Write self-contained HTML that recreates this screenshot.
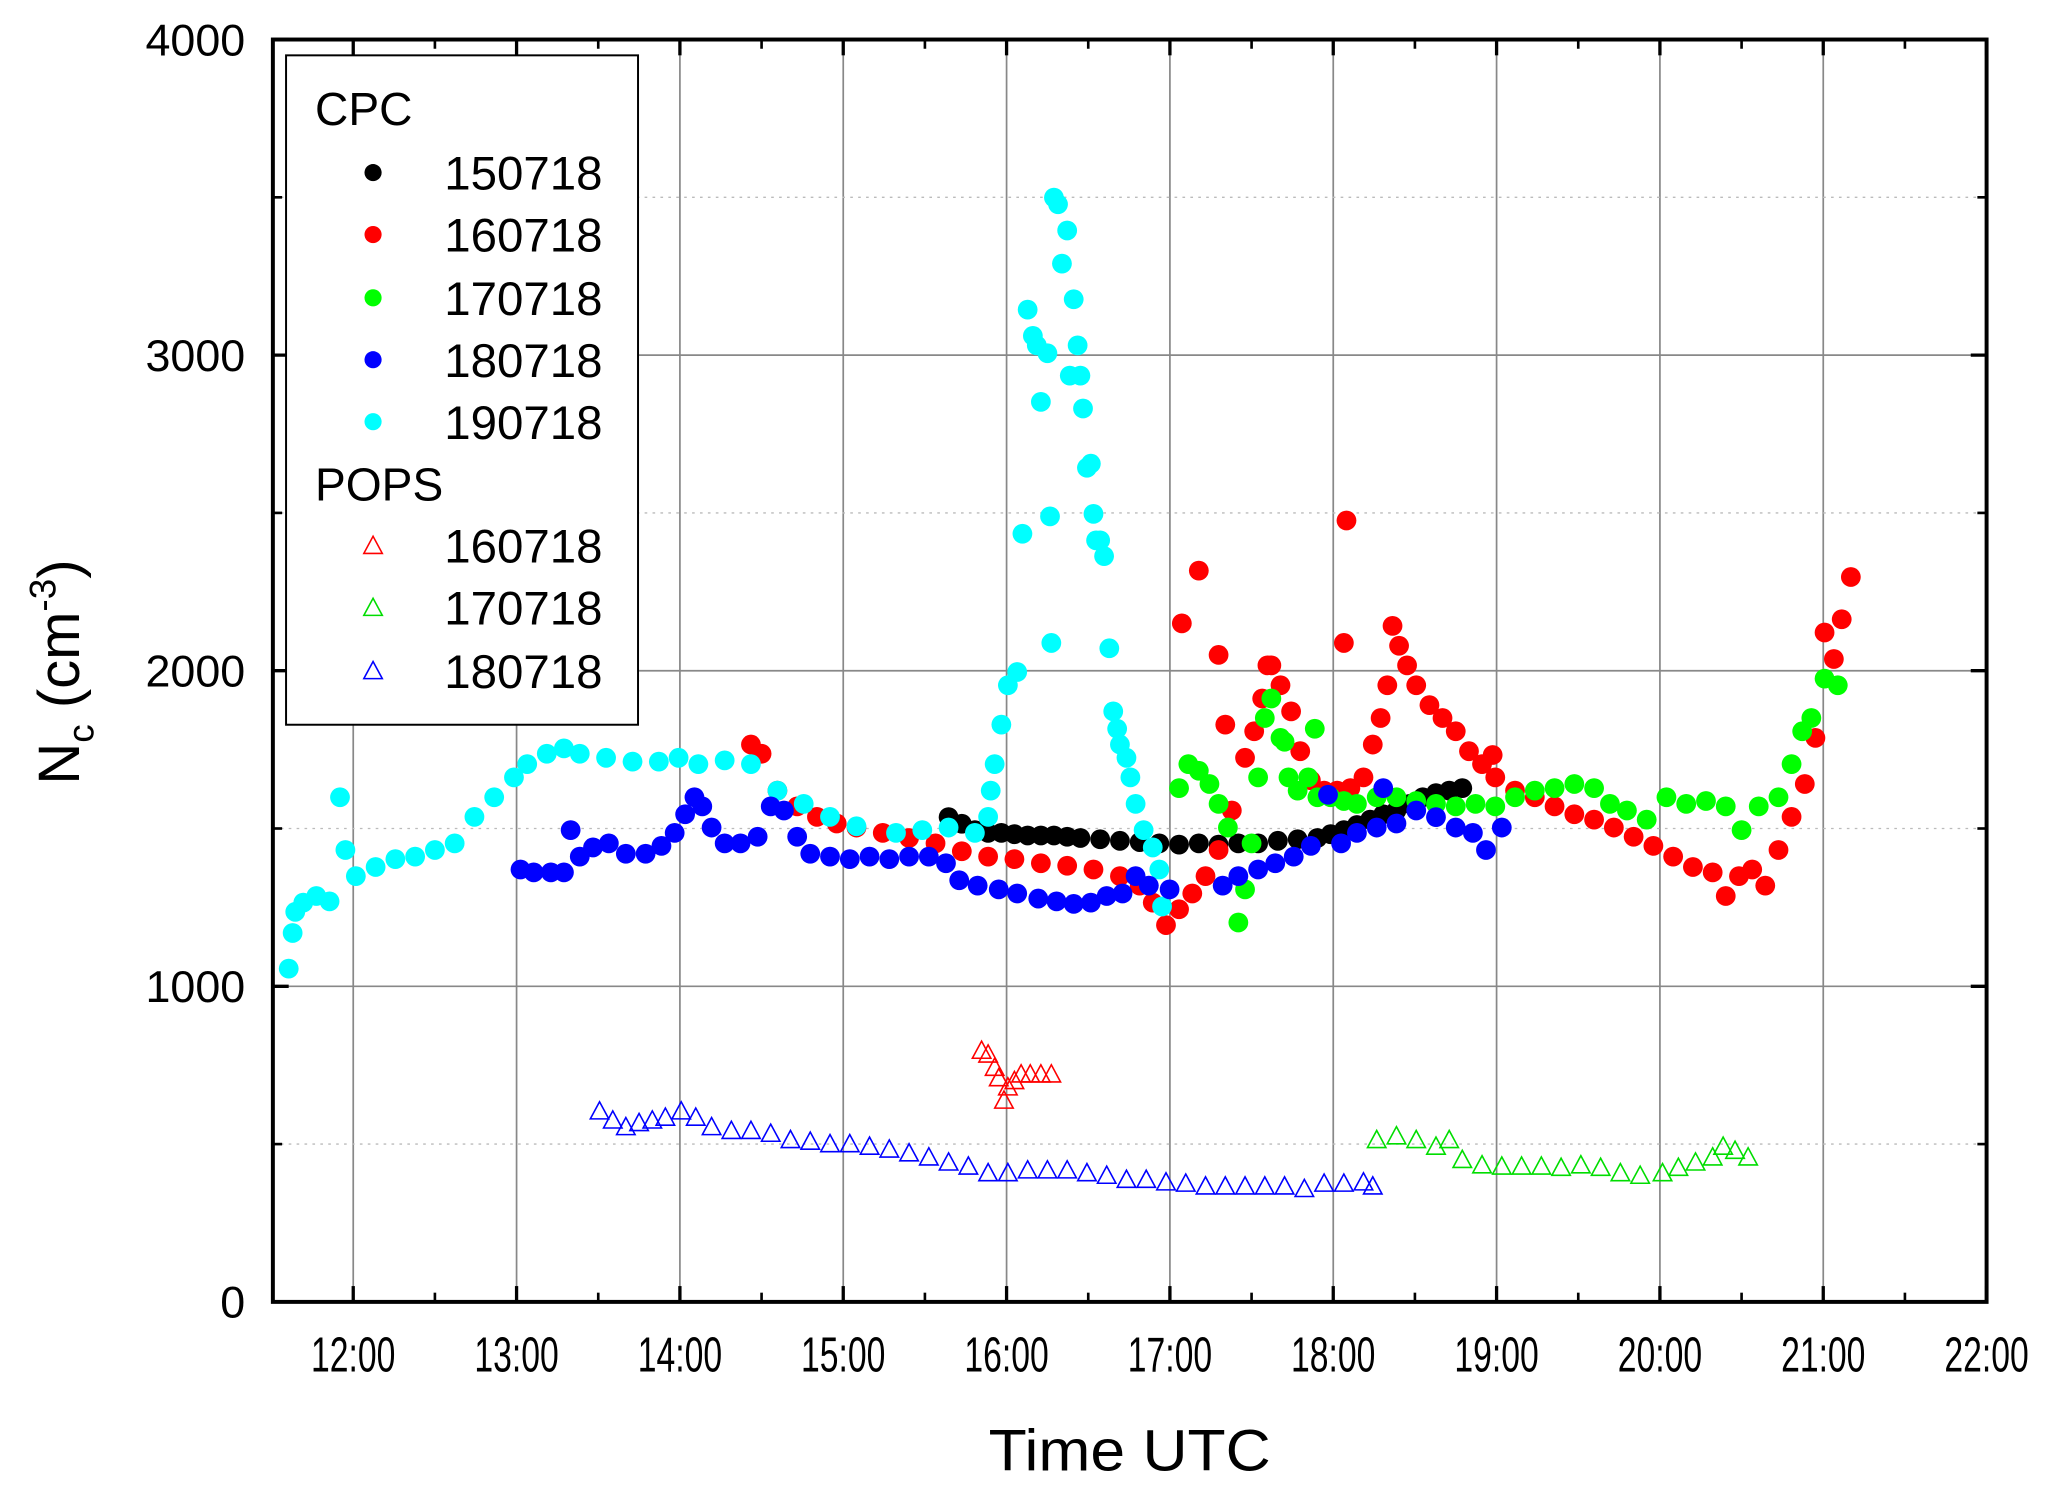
<!DOCTYPE html>
<html><head><meta charset="utf-8">
<style>
html,body{margin:0;padding:0;background:#fff;}
svg{display:block;}
text{font-family:"Liberation Sans",Arial,sans-serif;fill:#000;}
</style></head>
<body>
<svg id="chart" width="2067" height="1489" viewBox="0 0 1568 1130" preserveAspectRatio="none" xmlns="http://www.w3.org/2000/svg">
<g id="grid"></g>
<g id="marks"></g>
<g id="axes"></g>
<text x="857" y="1116" font-size="44" text-anchor="middle" textLength="214" lengthAdjust="spacingAndGlyphs">Time UTC</text>
<text transform="translate(60,510) rotate(-90)" font-size="44" text-anchor="middle">N<tspan font-size="28" dy="11">c</tspan><tspan dy="-11">  (cm</tspan><tspan font-size="28" dy="-18">-3</tspan><tspan dy="18">)</tspan></text>
<g>
<rect x="217" y="42" width="267" height="508" fill="#fff" stroke="#000" stroke-width="1.5"/>
<text x="239" y="95" font-size="35">CPC</text>
<text x="239" y="380" font-size="35">POPS</text>
<g id="legend-entries"></g>
</g>
</svg>
<script>
// ---- data (hours UTC, concentration cm^-3) ----
const cpc150718_t=[15.645,15.726,15.806,15.887,15.968,16.048,16.129,16.210,16.290,16.371,16.452,16.573,16.694,16.815,16.935,17.056,17.177,17.298,17.419,17.540,17.661,17.782,17.903,17.984,18.065,18.145,18.226,18.306,18.387,18.468,18.548,18.629,18.710,18.790];
const cpc150718_v=[1536,1515,1495,1486,1486,1482,1478,1478,1478,1474,1470,1466,1461,1457,1453,1449,1453,1449,1453,1453,1461,1466,1470,1482,1495,1511,1528,1545,1557,1578,1599,1612,1620,1628];
const cpc160718_t=[14.435,14.500,14.597,14.718,14.839,14.960,15.081,15.242,15.403,15.565,15.726,15.887,16.048,16.210,16.371,16.532,16.694,16.815,16.895,16.976,17.056,17.137,17.218,17.298,17.379,17.460,17.516,17.565,17.621,17.677,17.742,17.798,17.863,17.944,18.024,18.105,18.185,18.242,18.290,18.331,18.363,18.403,18.452,18.508,18.589,18.669,18.750,18.831,18.911,18.992,19.113,19.234,19.355,19.476,19.597,19.718,19.839,19.960,20.081,20.202,20.323,20.403,20.484,20.565,20.645,20.726,20.806,20.887,20.952,21.008,21.065,21.113,21.169,17.073,17.177,17.298,18.081,18.065,18.976,17.339,17.597];
const cpc160718_v=[1766,1737,1620,1570,1537,1516,1503,1486,1470,1453,1428,1411,1403,1390,1382,1370,1349,1319,1265,1194,1244,1294,1349,1432,1557,1724,1808,1912,2017,1954,1871,1745,1653,1620,1620,1628,1662,1766,1850,1954,2142,2079,2017,1954,1891,1850,1808,1745,1704,1662,1620,1599,1570,1545,1528,1503,1474,1445,1411,1378,1361,1286,1349,1370,1319,1432,1537,1641,1787,2121,2037,2163,2297,2150,2317,2050,2476,2088,1733,1829,2017];
const cpc170718_t=[17.056,17.113,17.177,17.242,17.298,17.355,17.419,17.460,17.500,17.540,17.581,17.621,17.677,17.726,17.782,17.847,17.903,17.984,18.065,18.145,18.266,18.387,18.508,18.629,18.750,18.871,18.992,19.113,19.234,19.355,19.476,19.597,19.694,19.798,19.919,20.040,20.161,20.282,20.403,20.500,20.605,20.726,20.806,20.871,20.927,21.008,21.089,17.702,17.887];
const cpc170718_v=[1628,1704,1683,1641,1578,1503,1202,1307,1453,1662,1850,1912,1787,1662,1620,1662,1599,1599,1587,1578,1599,1599,1587,1578,1570,1578,1570,1599,1620,1628,1641,1628,1578,1557,1528,1599,1578,1587,1570,1495,1570,1599,1704,1808,1850,1975,1954,1775,1816];
const cpc180718_t=[13.024,13.105,13.210,13.290,13.331,13.387,13.468,13.565,13.669,13.790,13.887,13.968,14.032,14.089,14.137,14.194,14.274,14.371,14.476,14.556,14.637,14.718,14.798,14.919,15.040,15.161,15.282,15.403,15.524,15.629,15.710,15.823,15.952,16.065,16.194,16.306,16.411,16.516,16.613,16.710,16.790,16.871,16.998,17.323,17.419,17.540,17.645,17.758,17.863,17.968,18.048,18.145,18.266,18.306,18.387,18.508,18.629,18.750,18.855,18.935,19.032];
const cpc180718_v=[1370,1361,1361,1361,1495,1411,1440,1453,1420,1420,1445,1486,1545,1599,1570,1503,1453,1453,1474,1570,1557,1474,1420,1411,1403,1411,1403,1411,1411,1390,1336,1319,1307,1294,1278,1269,1261,1265,1286,1294,1349,1319,1307,1319,1349,1370,1390,1411,1445,1607,1453,1486,1503,1628,1516,1557,1536,1503,1486,1432,1503];
const cpc190718_t=[11.605,11.629,11.645,11.694,11.774,11.855,11.919,11.952,12.016,12.137,12.258,12.379,12.500,12.621,12.742,12.863,12.984,13.065,13.185,13.290,13.387,13.548,13.710,13.871,13.992,14.113,14.274,14.435,14.597,14.758,14.919,15.081,15.323,15.484,15.645,15.806,15.887,15.903,15.927,15.968,16.008,16.065,16.097,16.129,16.161,16.185,16.210,16.250,16.266,16.274,16.290,16.315,16.339,16.371,16.387,16.411,16.435,16.452,16.468,16.492,16.516,16.532,16.548,16.573,16.597,16.629,16.653,16.677,16.694,16.734,16.758,16.790,16.839,16.895,16.935,16.952];
const cpc190718_v=[1056,1169,1236,1265,1286,1269,1599,1432,1349,1378,1403,1411,1432,1453,1537,1599,1662,1704,1737,1754,1737,1724,1712,1712,1724,1704,1716,1704,1620,1578,1537,1507,1486,1495,1503,1486,1537,1620,1704,1829,1954,1996,2434,3144,3061,3031,2852,3006,2489,2088,3499,3478,3290,3395,2935,3177,3031,2935,2831,2643,2656,2497,2413,2413,2363,2071,1871,1816,1766,1724,1662,1578,1495,1440,1370,1253];
const pops160718_t=[15.847,15.887,15.927,15.952,15.984,16.008,16.048,16.089,16.145,16.210,16.274];
const pops160718_v=[797,785,743,710,639,681,701,722,722,722,722];
const pops170718_t=[18.266,18.387,18.508,18.629,18.710,18.790,18.911,19.032,19.153,19.274,19.395,19.516,19.637,19.758,19.879,20.016,20.113,20.218,20.323,20.387,20.460,20.540];
const pops170718_v=[514,526,514,493,514,451,434,430,430,430,426,434,426,409,401,409,426,443,459,493,480,459];
const pops180718_t=[13.508,13.589,13.669,13.750,13.831,13.911,14.008,14.097,14.194,14.315,14.435,14.556,14.677,14.798,14.919,15.040,15.161,15.282,15.403,15.524,15.645,15.766,15.887,16.008,16.129,16.250,16.371,16.492,16.613,16.734,16.855,16.976,17.097,17.218,17.339,17.460,17.581,17.702,17.823,17.944,18.065,18.185,18.242];
const pops180718_v=[605,576,555,568,576,585,605,585,555,543,543,534,514,509,501,501,493,484,472,459,443,430,409,409,418,418,418,409,401,388,388,380,376,367,367,367,367,367,359,376,376,380,367];
const xTicks=[12,13,14,15,16,17,18,19,20,21,22];
const xTickLabels=["12:00","13:00","14:00","15:00","16:00","17:00","18:00","19:00","20:00","21:00","22:00"];
const yTicks=[0,1000,2000,3000,4000];
const yTickLabels=["0","1000","2000","3000","4000"];
const legendLabels=["150718","160718","170718","180718","190718","160718","170718","180718"];

// ---- layout ----
const L=207,R=1507,T=30,B=988, X0=11.508, X1=22, Y0=0, Y1=4000;
const sx=h=>L+(h-X0)/(X1-X0)*(R-L);
const sy=v=>B-(v-Y0)/(Y1-Y0)*(B-T);
const NS="http://www.w3.org/2000/svg";
function mk(tag,attrs,parent){const e=document.createElementNS(NS,tag);for(const k in attrs)e.setAttribute(k,attrs[k]);parent.appendChild(e);return e;}
const grid=document.getElementById('grid'),marks=document.getElementById('marks'),axes=document.getElementById('axes');

// grid
xTicks.forEach(h=>{const x=sx(h);const g=mk('line',{x1:x,x2:x,y1:T,y2:B,stroke:'#888','stroke-width':1.3},grid);

});
yTicks.forEach(v=>{const y=sy(v);const g=mk('line',{x1:L,x2:R,y1:y,y2:y,stroke:'#888','stroke-width':1.3},grid);

});
yTicks.slice(0,-1).forEach(v=>{const y=sy(v+500);const g=mk('line',{x1:L,x2:R,y1:y,y2:y,stroke:'#bbb','stroke-width':1,'stroke-dasharray':'2 4'},grid);

});

// series
function dots(ts,vs,color,name){const g=mk('g',{fill:color},marks);


ts.forEach((t,i)=>{const c=mk('circle',{cx:sx(t),cy:sy(vs[i]),r:7.5},g);

});}
function tris(ts,vs,color,name){const g=mk('g',{fill:'none',stroke:color,'stroke-width':1.2},marks);


ts.forEach((t,i)=>{const x=sx(t),y=sy(vs[i]);const p=mk('polygon',{points:`${x-7},${y+6} ${x+7},${y+6} ${x},${y-7}`},g);

});}
dots(cpc150718_t,cpc150718_v,'#000','cpc-150718-series');
dots(cpc160718_t,cpc160718_v,'#ff0000','cpc-160718-series');
dots(cpc190718_t,cpc190718_v,'#00ffff','cpc-190718-series');
dots(cpc170718_t,cpc170718_v,'#00ff00','cpc-170718-series');
dots(cpc180718_t,cpc180718_v,'#0000ff','cpc-180718-series');
tris(pops160718_t,pops160718_v,'#ff0000','pops-160718-series');
tris(pops170718_t,pops170718_v,'#00dd00','pops-170718-series');
tris(pops180718_t,pops180718_v,'#0000ff','pops-180718-series');

// axes frame & ticks
const fr=mk('rect',{x:L,y:T,width:R-L,height:B-T,fill:'none',stroke:'#000','stroke-width':3},axes);


function tick(x1,y1,x2,y2,w){mk('line',{x1,y1,x2,y2,stroke:'#000','stroke-width':w},axes);}
xTicks.forEach((h,i)=>{const x=sx(h);tick(x,B,x,B-12,2.5);tick(x,T,x,T+12,2.5);
const t=mk('text',{x:x,y:1041,'font-size':37,'text-anchor':'middle',textLength:64,lengthAdjust:'spacingAndGlyphs'},axes);t.textContent=xTickLabels[i];


if(h<22){const xm=sx(h+0.5);tick(xm,B,xm,B-7,2);tick(xm,T,xm,T+7,2);}});
yTicks.forEach((v,i)=>{const y=sy(v);tick(L,y,L+12,y,2.5);tick(R,y,R-12,y,2.5);
const t=mk('text',{x:186,y:y+12,'font-size':34,'text-anchor':'end'},axes);t.textContent=yTickLabels[i];


if(v<4000){const ym=sy(v+500);tick(L,ym,L+7,ym,2);tick(R,ym,R-7,ym,2);}});

// legend
const le=document.getElementById('legend-entries');
const lcol=['#000','#ff0000','#00ff00','#0000ff','#00ffff','#ff0000','#00dd00','#0000ff'];
const ly=[131,178,226,273,320,414,461,509];
legendLabels.forEach((lab,i)=>{const y=ly[i];
if(i<5){const c=mk('circle',{cx:283,cy:y,r:6.5,fill:lcol[i]},le);

}
else{const p=mk('polygon',{points:`${276},${y+6} ${290},${y+6} ${283},${y-7}`,fill:'none',stroke:lcol[i],'stroke-width':1.2},le);

}
const t=mk('text',{x:337,y:y+13,'font-size':36},le);t.textContent=lab;

});
</script>
</body></html>
